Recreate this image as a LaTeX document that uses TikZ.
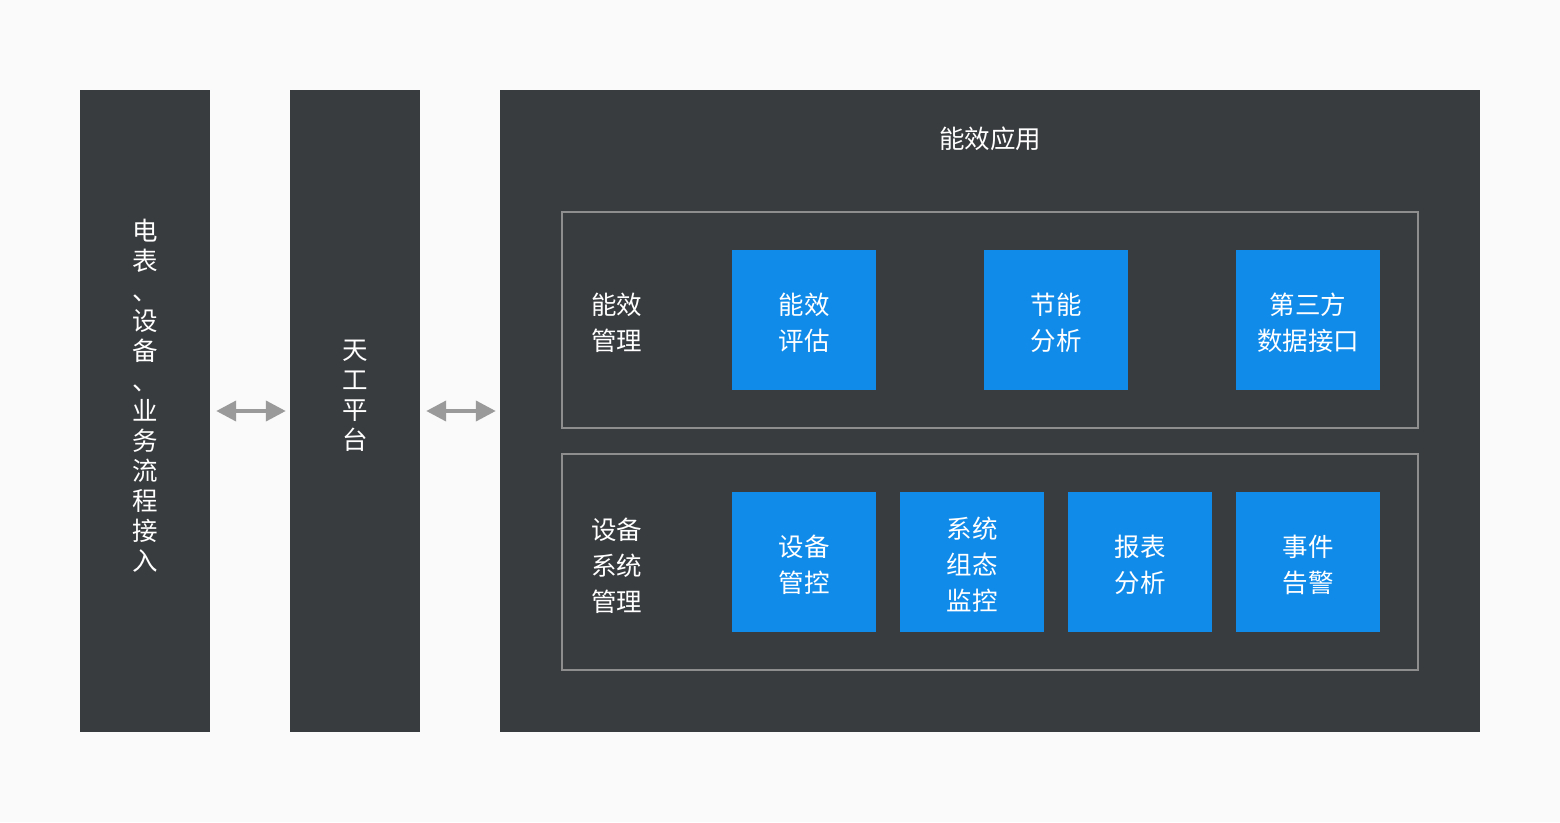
\documentclass[tikz,border=0pt]{standalone}
\usepackage{fontspec}
\setmainfont{Noto Sans CJK SC}
\usetikzlibrary{arrows.meta}
\definecolor{bg}{HTML}{FAFAFA}
\definecolor{dark}{HTML}{393C3F}
\definecolor{blu}{HTML}{118BEA}
\definecolor{edgegray}{HTML}{8E8E8E}
\definecolor{arrgray}{HTML}{9A9A9A}
\begin{document}
\begin{tikzpicture}[x=1pt,y=-1pt,
  colbox/.style={fill=dark, minimum width=130pt, minimum height=642pt, inner sep=0pt},
  vtext/.style={text=white, font=\fontsize{25.5}{30}\selectfont, align=center, inner sep=0pt},
  bigbox/.style={fill=dark, minimum width=980pt, minimum height=642pt, inner sep=0pt},
  groupbox/.style={draw=edgegray, line width=2pt, minimum width=856pt, minimum height=216pt, inner sep=0pt},
  bluebox/.style={fill=blu, minimum width=144pt, minimum height=140pt, inner sep=0pt},
  btext/.style={text=white, font=\fontsize{25.5}{36}\selectfont, align=center, inner sep=0pt},
  lbl/.style={text=white, font=\fontsize{25.5}{36}\selectfont, align=left, inner sep=0pt, anchor=west},
  dbl/.style={draw=arrgray, line width=4pt, {Triangle[length=20pt,width=20pt]}-{Triangle[length=20pt,width=20pt]}}
]
\fill[bg] (0,0) rectangle (1560,822);
\useasboundingbox (0,0) rectangle (1560,822);

\node[colbox] (left) at (145,411) {};
\node[vtext] (lefttext) at (145,396) {电\\表\\、\\设\\备\\、\\业\\务\\流\\程\\接\\入};
\node[colbox] (mid) at (355,411) {};
\node[vtext] (midtext) at (355,396) {天\\工\\平\\台};
\node[bigbox] (app) at (990,411) {};
\node[text=white, font=\fontsize{25.5}{30}\selectfont, inner sep=0pt] (title) at (990,139) {能效应用};

\node[groupbox] (g1) at (990,320) {};
\node[groupbox] (g2) at (990,562) {};

\node[lbl] (l1) at (591,323) {能效\\管理};
\node[lbl] (l2) at (591,566) {设备\\系统\\管理};

\node[bluebox] (b11) at (804,320) {};
\node[bluebox] (b12) at (1056,320) {};
\node[bluebox] (b13) at (1308,320) {};
\node[bluebox] (b21) at (804,562) {};
\node[bluebox] (b22) at (972,562) {};
\node[bluebox] (b23) at (1140,562) {};
\node[bluebox] (b24) at (1308,562) {};

\node[btext] (t11) at ([yshift=-3pt]b11.center) {能效\\评估};
\node[btext] (t12) at ([yshift=-3pt]b12.center) {节能\\分析};
\node[btext] (t13) at ([yshift=-3pt]b13.center) {第三方\\数据接口};
\node[btext] (t21) at ([yshift=-3pt]b21.center) {设备\\管控};
\node[btext] (t22) at ([yshift=-3pt]b22.center) {系统\\组态\\监控};
\node[btext] (t23) at ([yshift=-3pt]b23.center) {报表\\分析};
\node[btext] (t24) at ([yshift=-3pt]b24.center) {事件\\告警};

\draw[dbl, shorten <=6pt, shorten >=4pt] (left.east |- 0,411) -- (mid.west |- 0,411);
\draw[dbl, shorten <=6pt, shorten >=4pt] (mid.east |- 0,411) -- (app.west |- 0,411);
\end{tikzpicture}
\end{document}
